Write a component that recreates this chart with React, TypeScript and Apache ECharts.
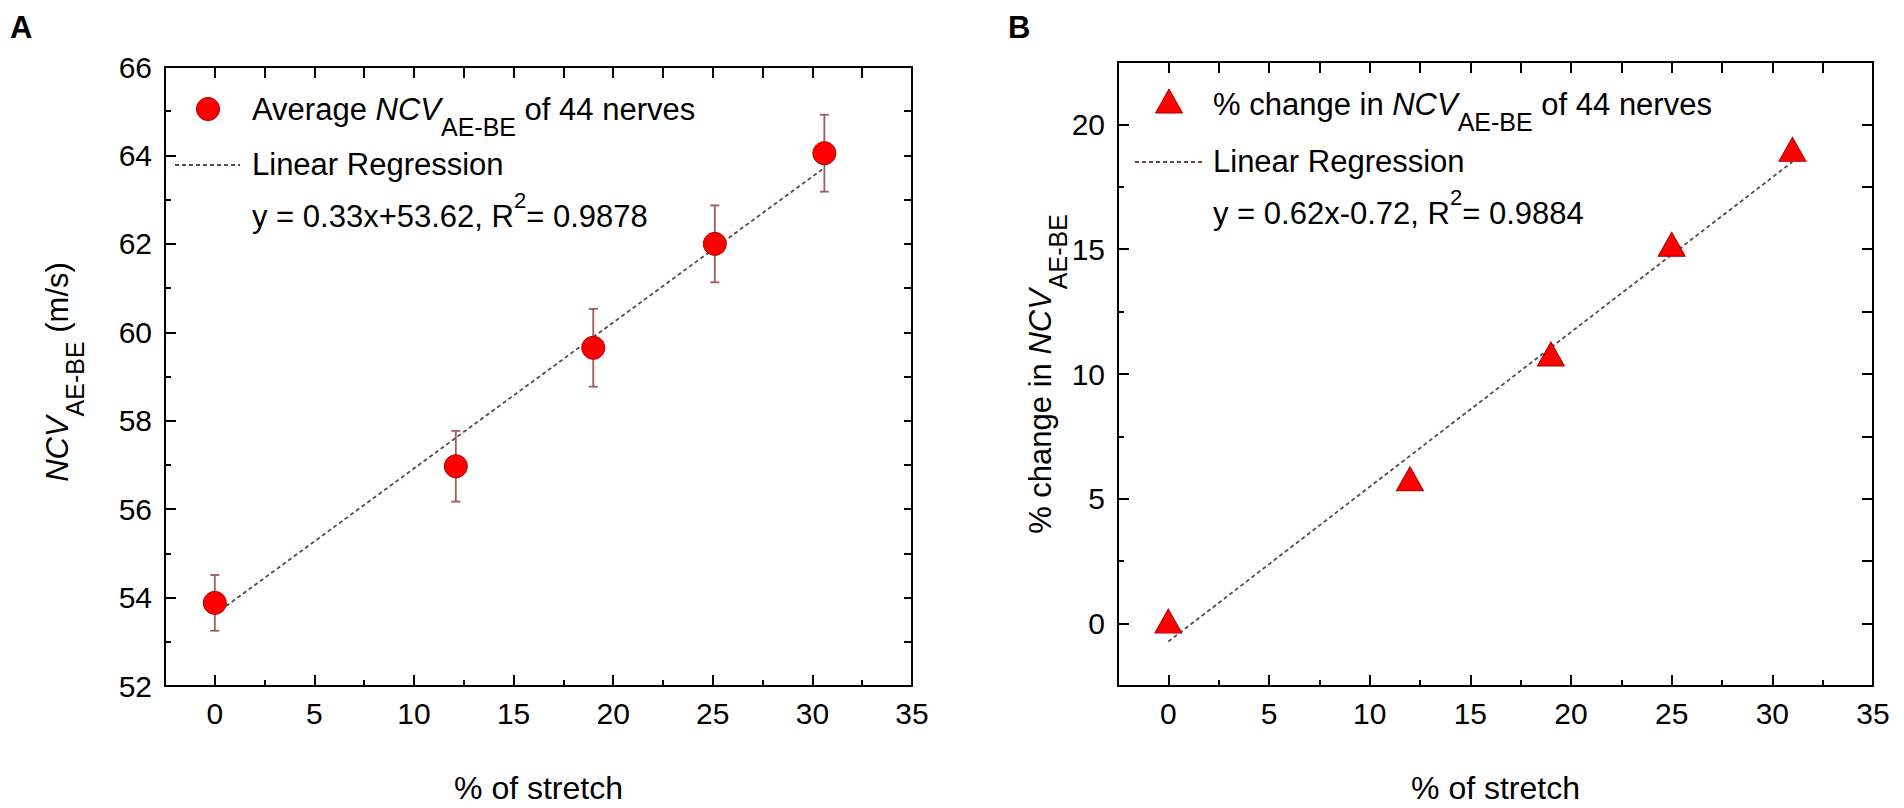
import React, { useEffect, useRef } from "react";
import * as echarts from "echarts";

// ---------- data ----------
const stretchA = [0, 12.1, 19, 25.1, 30.6];
const ncvA = [53.88, 56.97, 59.65, 62.0, 64.05];
const errA = [0.63, 0.8, 0.88, 0.87, 0.87];
const fitA = [
  [0, 53.62],
  [30.6, 63.72],
];

const stretchB = [0, 12, 19, 25, 31];
const changeB = [0.1, 5.8, 10.8, 15.2, 19.0];
const fitB = [
  [0, -0.72],
  [31, 18.5],
];

const xMajorTicks = [0, 5, 10, 15, 20, 25, 30, 35];
const xMinorTicks = [2.5, 7.5, 12.5, 17.5, 22.5, 27.5, 32.5];
const yMajorTicksB = [0, 5, 10, 15, 20];
const yMinorTicksB = [2.5, 7.5, 12.5, 17.5];

const legendA = "Average ";
const legendB = "% change in ";
const legendTail = " of 44 nerves";
const regLabel = "Linear Regression";
const eqA = ["y = 0.33x+53.62, R", "2", "= 0.9878"];
const eqB = ["y = 0.62x-0.72, R", "2", "= 0.9884"];
const xTitle = "% of stretch";

// ---------- style ----------
const FONT = '"Liberation Sans", Arial, Helvetica, sans-serif';
const BLACK = "#000000";
const RED = "#ff0000";
const RED_EDGE = "#a80000";
const ERR_COLOR = "#a05a5a";
const FIT_COLOR = "#5e4848";

type Seg = { t: string; size: number; italic?: boolean; dy?: number };

let measureCtx: CanvasRenderingContext2D | null = null;
function textWidth(s: Seg) {
  if (!measureCtx) measureCtx = document.createElement("canvas").getContext("2d");
  measureCtx!.font = `${s.italic ? "italic " : ""}${s.size}px "Liberation Sans"`;
  return measureCtx!.measureText(s.t).width;
}

function runWidth(segs: Seg[]) {
  return segs.reduce((a, s) => a + textWidth(s), 0);
}

function buildRun(segs: Seg[], x0: number, y0: number): any[] {
  let x = x0;
  const out: any[] = [];
  for (const s of segs) {
    out.push({
      type: "text",
      x,
      y: y0 + (s.dy || 0),
      silent: true,
      style: {
        text: s.t,
        fill: BLACK,
        font: `${s.italic ? "italic " : ""}${s.size}px ${FONT}`,
        align: "left",
        verticalAlign: "middle",
      },
    });
    x += textWidth(s);
  }
  return out;
}

function rotatedTitle(segs: Seg[], cx: number, cy: number) {
  const w = runWidth(segs);
  return {
    type: "group",
    x: cx,
    y: cy,
    rotation: Math.PI / 2,
    children: buildRun(segs, -w / 2, 0),
  };
}

function dashed(x1: number, x2: number, y: number) {
  return {
    type: "line",
    silent: true,
    shape: { x1, y1: y, x2, y2: y },
    style: { stroke: FIT_COLOR, lineWidth: 1.8, lineDash: [4, 3] },
  };
}

const axisLineStyle = { show: true, onZero: false, lineStyle: { color: BLACK, width: 2 } };
const noLine = { show: false, onZero: false };

function bottomAxes(grid: number) {
  return [
    {
      type: "value",
      gridIndex: grid,
      position: "bottom",
      min: -2.5,
      max: 35,
      interval: 2.5,
      axisLine: axisLineStyle,
      axisTick: { show: true, inside: true, length: 11, customValues: xMajorTicks, lineStyle: { color: BLACK, width: 2 } },
      axisLabel: { show: true, customValues: xMajorTicks, fontSize: 30, color: BLACK, fontFamily: FONT, margin: 12 },
      splitLine: { show: false },
    },
    {
      type: "value",
      gridIndex: grid,
      position: "bottom",
      min: -2.5,
      max: 35,
      interval: 2.5,
      axisLine: noLine,
      axisTick: { show: true, inside: true, length: 6, customValues: xMinorTicks, lineStyle: { color: BLACK, width: 2 } },
      axisLabel: { show: false },
      splitLine: { show: false },
    },
    {
      type: "value",
      gridIndex: grid,
      position: "top",
      min: -2.5,
      max: 35,
      interval: 2.5,
      axisLine: axisLineStyle,
      axisTick: { show: true, inside: true, length: 11, lineStyle: { color: BLACK, width: 2 } },
      axisLabel: { show: false },
      splitLine: { show: false },
    },
  ];
}

function App() {
  const ref = useRef<HTMLDivElement>(null);

  useEffect(() => {
    if (!ref.current) return;
    const chart = echarts.init(ref.current, undefined, { renderer: "svg" });

    const segLegendA: Seg[] = [
      { t: legendA, size: 31 },
      { t: "NCV", size: 31, italic: true },
      { t: "AE-BE", size: 25, dy: 18 },
      { t: legendTail, size: 31 },
    ];
    const segLegendB: Seg[] = [
      { t: legendB, size: 31 },
      { t: "NCV", size: 31, italic: true },
      { t: "AE-BE", size: 25, dy: 18 },
      { t: legendTail, size: 31 },
    ];
    const segEqA: Seg[] = [
      { t: eqA[0], size: 31 },
      { t: eqA[1], size: 22, dy: -16 },
      { t: eqA[2], size: 31 },
    ];
    const segEqB: Seg[] = [
      { t: eqB[0], size: 31 },
      { t: eqB[1], size: 22, dy: -16 },
      { t: eqB[2], size: 31 },
    ];
    const yTitleA: Seg[] = [
      { t: "NCV", size: 31, italic: true },
      { t: "AE-BE", size: 25, dy: 18 },
      { t: " (m/s)", size: 31 },
    ];
    const yTitleB: Seg[] = [
      { t: "% change in ", size: 31 },
      { t: "NCV", size: 31, italic: true },
      { t: "AE-BE", size: 25, dy: 18 },
    ];

    const graphics: any[] = [
      // panel letters
      { type: "text", x: 10, y: 27, silent: true, style: { text: "A", fill: BLACK, font: `bold 31px ${FONT}`, verticalAlign: "middle" } },
      { type: "text", x: 1008, y: 27, silent: true, style: { text: "B", fill: BLACK, font: `bold 31px ${FONT}`, verticalAlign: "middle" } },
      // x titles
      { type: "text", x: 538.5, y: 788, silent: true, style: { text: xTitle, fill: BLACK, font: `32px ${FONT}`, align: "center", verticalAlign: "middle" } },
      { type: "text", x: 1495.5, y: 788, silent: true, style: { text: xTitle, fill: BLACK, font: `32px ${FONT}`, align: "center", verticalAlign: "middle" } },
      // y titles
      rotatedTitle(yTitleA, 57, 372),
      rotatedTitle(yTitleB, 1040, 374),
      // legend A
      { type: "circle", silent: true, shape: { cx: 208, cy: 109, r: 11.5 }, style: { fill: RED, stroke: RED_EDGE, lineWidth: 1 } },
      ...buildRun(segLegendA, 252, 109),
      dashed(175, 240, 165),
      ...buildRun([{ t: regLabel, size: 31 }], 252, 164),
      ...buildRun(segEqA, 252, 216),
      // legend B
      {
        type: "polygon",
        silent: true,
        shape: { points: [[1169, 89], [1182.5, 113], [1155.5, 113]] },
        style: { fill: RED, stroke: RED_EDGE, lineWidth: 1 },
      },
      ...buildRun(segLegendB, 1213, 104),
      dashed(1135, 1202, 162),
      ...buildRun([{ t: regLabel, size: 31 }], 1213, 161),
      ...buildRun(segEqB, 1213, 213),
    ];

    const option: any = {
      animation: false,
      backgroundColor: "#ffffff",
      textStyle: { fontFamily: FONT },
      grid: [
        { left: 165, top: 67, width: 747, height: 619 },
        { left: 1118, top: 62, width: 755, height: 624 },
      ],
      xAxis: [...bottomAxes(0), ...bottomAxes(1)],
      yAxis: [
        {
          type: "value",
          gridIndex: 0,
          position: "left",
          min: 52,
          max: 66,
          interval: 2,
          axisLine: axisLineStyle,
          axisTick: { show: true, inside: true, length: 11, lineStyle: { color: BLACK, width: 2 } },
          minorTick: { show: true, splitNumber: 2, length: 6, lineStyle: { color: BLACK, width: 2 } },
          axisLabel: { fontSize: 30, color: BLACK, fontFamily: FONT, margin: 13 },
          splitLine: { show: false },
        },
        {
          type: "value",
          gridIndex: 0,
          position: "right",
          min: 52,
          max: 66,
          interval: 1,
          axisLine: axisLineStyle,
          axisTick: { show: true, inside: true, length: 8, lineStyle: { color: BLACK, width: 2 } },
          axisLabel: { show: false },
          splitLine: { show: false },
        },
        {
          type: "value",
          gridIndex: 1,
          position: "left",
          min: -2.5,
          max: 22.5,
          interval: 2.5,
          axisLine: axisLineStyle,
          axisTick: { show: true, inside: true, length: 11, customValues: yMajorTicksB, lineStyle: { color: BLACK, width: 2 } },
          axisLabel: { customValues: yMajorTicksB, fontSize: 30, color: BLACK, fontFamily: FONT, margin: 13 },
          splitLine: { show: false },
        },
        {
          type: "value",
          gridIndex: 1,
          position: "left",
          min: -2.5,
          max: 22.5,
          interval: 2.5,
          axisLine: noLine,
          axisTick: { show: true, inside: true, length: 6, customValues: yMinorTicksB, lineStyle: { color: BLACK, width: 2 } },
          axisLabel: { show: false },
          splitLine: { show: false },
        },
        {
          type: "value",
          gridIndex: 1,
          position: "right",
          min: -2.5,
          max: 22.5,
          interval: 2.5,
          axisLine: axisLineStyle,
          axisTick: { show: true, inside: true, length: 11, lineStyle: { color: BLACK, width: 2 } },
          axisLabel: { show: false },
          splitLine: { show: false },
        },
      ],
      series: [
        {
          type: "custom",
          xAxisIndex: 0,
          yAxisIndex: 0,
          z: 2,
          encode: { x: 0, y: [1, 2] },
          data: stretchA.map((x, i) => [x, ncvA[i] - errA[i], ncvA[i] + errA[i]]),
          renderItem: (params: any, api: any) => {
            const lo = api.coord([api.value(0), api.value(1)]);
            const hi = api.coord([api.value(0), api.value(2)]);
            const st = { stroke: ERR_COLOR, lineWidth: 1.8 };
            const cw = 4.5;
            return {
              type: "group",
              children: [
                { type: "line", shape: { x1: lo[0], y1: lo[1], x2: hi[0], y2: hi[1] }, style: st },
                { type: "line", shape: { x1: lo[0] - cw, y1: lo[1], x2: lo[0] + cw, y2: lo[1] }, style: st },
                { type: "line", shape: { x1: hi[0] - cw, y1: hi[1], x2: hi[0] + cw, y2: hi[1] }, style: st },
              ],
            };
          },
        },
        {
          type: "line",
          xAxisIndex: 0,
          yAxisIndex: 0,
          z: 3,
          data: fitA,
          symbol: "none",
          lineStyle: { color: FIT_COLOR, width: 1.8, type: [4, 3] },
        },
        {
          type: "scatter",
          xAxisIndex: 0,
          yAxisIndex: 0,
          z: 5,
          data: stretchA.map((x, i) => [x, ncvA[i]]),
          symbol: "circle",
          symbolSize: 23,
          itemStyle: { color: RED, borderColor: RED_EDGE, borderWidth: 1, opacity: 1 },
        },
        {
          type: "line",
          xAxisIndex: 3,
          yAxisIndex: 2,
          z: 3,
          data: fitB,
          symbol: "none",
          lineStyle: { color: FIT_COLOR, width: 1.8, type: [4, 3] },
        },
        {
          type: "scatter",
          xAxisIndex: 3,
          yAxisIndex: 2,
          z: 5,
          data: stretchB.map((x, i) => [x, changeB[i]]),
          symbol: "triangle",
          symbolSize: [27, 24],
          itemStyle: { color: RED, borderColor: RED_EDGE, borderWidth: 1, opacity: 1 },
        },
      ],
      graphic: graphics,
    };

    chart.setOption(option);
    return () => chart.dispose();
  }, []);

  return (
    <div
      ref={ref}
      style={{ position: "absolute", left: 0, top: 0, width: 1904, height: 808, background: "#fff" }}
    />
  );
}

export default App;
